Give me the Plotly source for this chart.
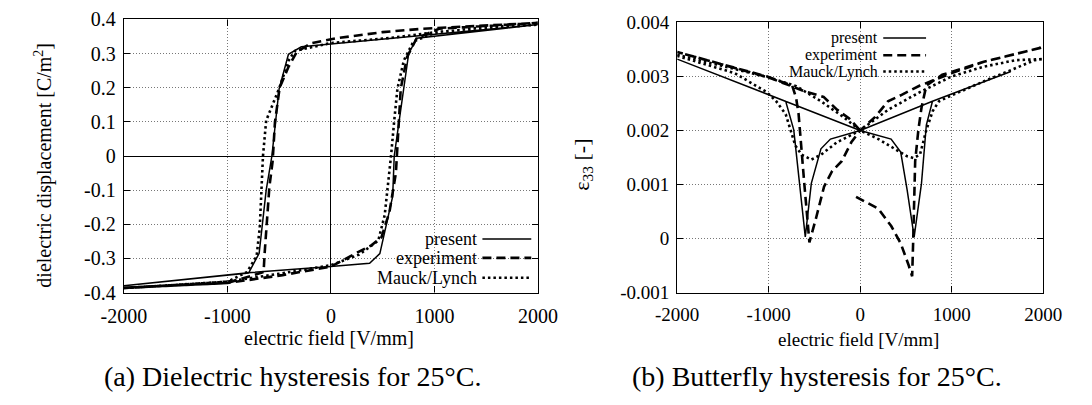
import plotly.graph_objects as go

# ---------------- data: (a) dielectric hysteresis ----------------
present_E = [-2000, -800, 0, 374, 473, 597, 612, 705, 751, 829, 2000,
             -285, -410, -500, -570, -625, -693, -795, -2000]
present_D = [-0.380, -0.342, -0.324, -0.314, -0.286, -0.118, 0.0, 0.197, 0.299, 0.345, 0.385,
             0.320, 0.298, 0.197, 0.0, -0.100, -0.285, -0.343, -0.380]

experiment_E = [-2000, -1000, -466, 0, 272, 395, 489, 566, 628, 675, 736, 829, 1045, 1509, 2000,
                891, 500, 55, -192, -330, -408, -495, -540, -563, -594, -640, -650, -1000, -2000]
experiment_D = [-0.386, -0.372, -0.349, -0.324, -0.280, -0.261, -0.238, -0.164, -0.050, 0.197, 0.290,
                0.345, 0.373, 0.382, 0.390,
                0.373, 0.363, 0.345, 0.330, 0.305, 0.262, 0.200, 0.100, -0.016, -0.090, -0.285,
                -0.340, -0.372, -0.386]

mauck_E = [-2000, -1000, -500, 0, 272, 400, 458, 520, 551, 581, 612, 643, 705, 798, 1000, 1500, 2000,
           1045, 581, 0, -347, -408, -501, -625, -656, -672, -687, -718, -811, -997, -2000]
mauck_D = [-0.387, -0.368, -0.345, -0.320, -0.289, -0.262, -0.248, -0.173, -0.090, 0.0, 0.104, 0.197,
           0.280, 0.336, 0.360, 0.378, 0.385,
           0.364, 0.346, 0.331, 0.308, 0.280, 0.197, 0.104, 0.0, -0.100, -0.210, -0.294, -0.340,
           -0.368, -0.387]

# ---------------- data: (b) butterfly hysteresis ----------------
present_E2 = [-2000, -814, 0, 338, 443, 513, 590, 670, 723, 790, 1647,
              790, 0, -325, -429, -534, -600, -656, -726, -814, -2000]
present_S = [0.00332, 0.00254, 0.00200, 0.00184, 0.00160, 0.00090, 0.00003, 0.00102, 0.00210,
             0.00254, 0.00309,
             0.00254, 0.00200, 0.00184, 0.00166, 0.00102, 0.00003, 0.00096, 0.00201, 0.00254,
             0.00332]

experiment_E2 = [-45, 199, 339, 443, 531, 568, 580, 590, 601, 636, 670, 723, 897, 1351, 1700, 1962, 2000,
                 1700, 1351, 1002, 653, 443, 304, 164, 0, -97, -202, -306, -395, -482, -555,
                 -610, -650, -673, -700, -743, -1023, -2000,
                 -1000, -600, -400, -250, -120, 0]
experiment_S = [0.00077, 0.00055, 0.00023, -0.00009, -0.00050, -0.00070, 0.00000, 0.00100, 0.00143,
                0.00201, 0.00242, 0.00283, 0.00303, 0.00327, 0.00341, 0.00352, 0.00354,
                0.00341, 0.00327, 0.00306, 0.00283, 0.00265, 0.00254, 0.00225, 0.00200, 0.00178,
                0.00143, 0.00125, 0.00096, 0.00038, -0.00007,
                0.00100, 0.00180, 0.00230, 0.00260, 0.00283, 0.00300, 0.00345,
                0.00298, 0.00272, 0.00262, 0.00238, 0.00222, 0.00200]

mauck_E2 = [-2000, -1000, -700, -429, -185, 0, 199, 374, 513, 583, 653, 723, 793, 862, 1002, 1354,
            1630, 1909, 2000,
            1700, 1351, 1002, 653, 304, 0, -254, -429, -534, -639, -709, -814, -918, -1023, -1372,
            -2000]
mauck_S = [0.00340, 0.00298, 0.00282, 0.00254, 0.00225, 0.00200, 0.00184, 0.00166, 0.00152, 0.00149,
           0.00155, 0.00201, 0.00236, 0.00254, 0.00265, 0.00291, 0.00311, 0.00330, 0.00332,
           0.00330, 0.00318, 0.00300, 0.00271, 0.00238, 0.00200, 0.00178, 0.00155, 0.00146,
           0.00155, 0.00172, 0.00230, 0.00254, 0.00271, 0.00306, 0.00338]

x_ticks = [-2000, -1000, 0, 1000, 2000]
x_ticktext = ["-2000", "-1000", "0", "1000", "2000"]
yA_ticks = [-0.4, -0.3, -0.2, -0.1, 0, 0.1, 0.2, 0.3, 0.4]
yA_ticktext = ["-0.4", "-0.3", "-0.2", "-0.1", "0", "0.1", "0.2", "0.3", "0.4"]
yB_ticks = [-0.001, 0, 0.001, 0.002, 0.003, 0.004]
yB_ticktext = ["-0.001", "0", "0.001", "0.002", "0.003", "0.004"]

series_names = ["present", "experiment", "Mauck/Lynch"]

FONT = "Liberation Serif, Times New Roman, Tinos, DejaVu Serif, serif"
W, H = 1092, 405

styles = [
    dict(color="black", width=1.5, dash="solid"),
    dict(color="black", width=2.6, dash="9px,5px"),
    dict(color="black", width=2.6, dash="2.5px,3px"),
]

fig = go.Figure()
dataA = [(present_E, present_D), (experiment_E, experiment_D), (mauck_E, mauck_D)]
dataB = [(present_E2, present_S), (experiment_E2, experiment_S), (mauck_E2, mauck_S)]
for (xs, ys), st, nm in zip(dataA, styles, series_names):
    fig.add_trace(go.Scatter(x=xs, y=ys, mode="lines", line=st, name=nm,
                             xaxis="x", yaxis="y", showlegend=False))
for (xs, ys), st, nm in zip(dataB, styles, series_names):
    fig.add_trace(go.Scatter(x=xs, y=ys, mode="lines", line=st, name=nm,
                             xaxis="x2", yaxis="y2", showlegend=False))

# plot-area pixel boxes
axA = dict(l=105, r=536, t=10, b=298)
axB = dict(l=681, r=1062, t=13, b=298)


def dom_x(a):
    return [a["l"] / W, a["r"] / W]


def dom_y(a):
    return [1 - a["b"] / H, 1 - a["t"] / H]


def common(size):
    return dict(
        showline=True, linecolor="black", linewidth=1.3, mirror="allticks",
        ticks="inside", ticklen=6, tickcolor="black", tickwidth=1,
        showgrid=True, gridcolor="#777777", gridwidth=1, griddash="1px,2px",
        tickfont=dict(family=FONT, size=size, color="black"),
        fixedrange=True,
    )


fig.update_layout(
    width=W, height=H,
    margin=dict(l=0, r=0, t=0, b=0),
    paper_bgcolor="white", plot_bgcolor="white",
    font=dict(family=FONT, color="black"),
    xaxis=dict(domain=dom_x(axA), anchor="y", range=[-2000, 2000],
               tickvals=x_ticks, ticktext=x_ticktext,
               zeroline=True, zerolinecolor="black", zerolinewidth=1,
               ticklabelstandoff=5, **common(20)),
    yaxis=dict(domain=dom_y(axA), anchor="x", range=[-0.4, 0.4],
               tickvals=yA_ticks, ticktext=yA_ticktext,
               zeroline=True, zerolinecolor="black", zerolinewidth=1,
               ticklabelstandoff=3, **common(20)),
    xaxis2=dict(domain=dom_x(axB), anchor="y2", range=[-2000, 2000],
                tickvals=x_ticks, ticktext=x_ticktext, zeroline=False,
                ticklabelstandoff=5, **common(19)),
    yaxis2=dict(domain=dom_y(axB), anchor="x2", range=[-0.001, 0.004],
                tickvals=yB_ticks, ticktext=yB_ticktext, zeroline=False,
                ticklabelstandoff=3, **common(19)),
)

# ---- manual legends (text right-aligned, sample to the right) ----
def add_legend(xref, yref, text_right, x0, x1, ys, size):
    for nm, st, yy in zip(series_names, styles, ys):
        fig.add_annotation(xref=xref, yref=yref, x=text_right, y=yy, text=nm,
                           showarrow=False, xanchor="right", yanchor="middle",
                           borderpad=0,
                           font=dict(family=FONT, size=size, color="black"))
        fig.add_shape(type="line", xref=xref, yref=yref, x0=x0, x1=x1, y0=yy, y1=yy,
                      line=dict(color=st["color"], width=st["width"], dash=st["dash"]))


add_legend("x domain", "y domain", 0.856, 0.866, 0.984, [0.196, 0.127, 0.054], 18)
add_legend("x2 domain", "y2 domain", 0.552, 0.563, 0.680, [0.942, 0.878, 0.818], 16)

# ---- axis titles ----
fig.add_annotation(xref="paper", yref="paper", x=319 / W, y=1 - 346 / H,
                   text="electric field [V/mm]", showarrow=False,
                   xanchor="center", yanchor="middle",
                   font=dict(family=FONT, size=20, color="black"))
fig.add_annotation(xref="paper", yref="paper", x=870 / W, y=1 - 347 / H,
                   text="electric field [V/mm]", showarrow=False,
                   xanchor="center", yanchor="middle",
                   font=dict(family=FONT, size=19, color="black"))
fig.add_annotation(xref="paper", yref="paper", x=21 / W, y=1 - 164 / H,
                   text="dielectric displacement [C/m<sup>2</sup>]", showarrow=False,
                   textangle=-90, xanchor="center", yanchor="middle",
                   font=dict(family=FONT, size=20, color="black"))
fig.add_annotation(xref="paper", yref="paper", x=582 / W, y=1 - 163 / H,
                   text="ε<sub>33</sub> [-]", showarrow=False,
                   textangle=-90, xanchor="center", yanchor="middle",
                   font=dict(family=FONT, size=22, color="black"))

# ---- captions ----
fig.add_annotation(xref="paper", yref="paper", x=281 / W, y=1 - 387 / H,
                   text="(a) Dielectric hysteresis for 25°C.", showarrow=False,
                   xanchor="center", yanchor="middle",
                   font=dict(family=FONT, size=28, color="black"))
fig.add_annotation(xref="paper", yref="paper", x=827 / W, y=1 - 387 / H,
                   text="(b) Butterfly hysteresis for 25°C.", showarrow=False,
                   xanchor="center", yanchor="middle",
                   font=dict(family=FONT, size=28, color="black"))

fig.write_html("out.html")
